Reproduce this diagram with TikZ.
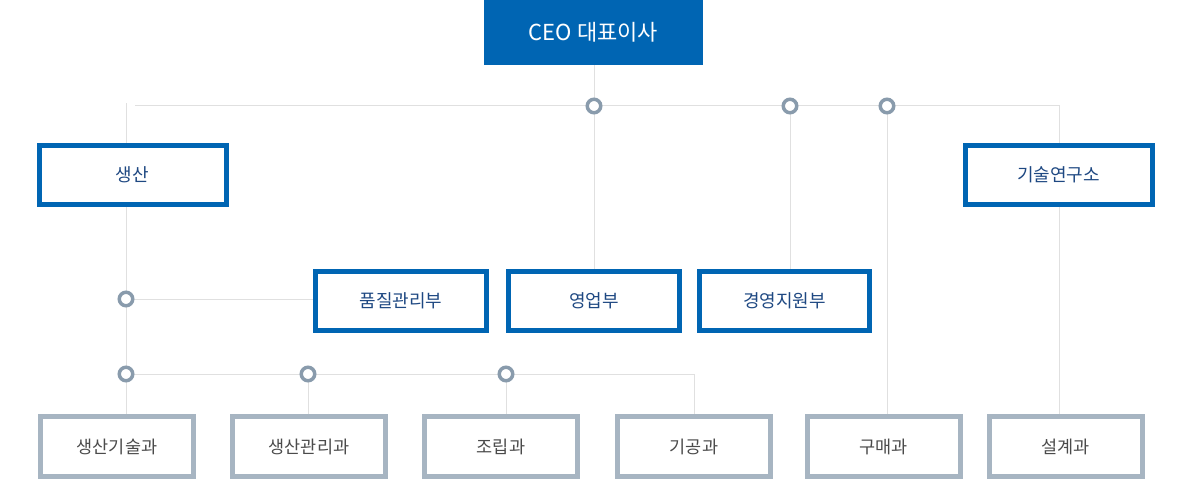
\documentclass[tikz,border=0pt]{standalone}
\usepackage{fontspec}
\setmainfont{Noto Sans CJK KR}
\definecolor{ceoblue}{RGB}{0,101,179}
\definecolor{teamgray}{RGB}{167,181,194}
\definecolor{dotgray}{RGB}{137,155,172}
\definecolor{linegray}{RGB}{224,224,224}
\definecolor{txtblue}{RGB}{30,72,130}
\definecolor{txtgray}{RGB}{75,75,75}

\tikzstyle{ceo} = [rectangle, fill=ceoblue, text=white, minimum width=219pt, minimum height=65pt, inner sep=0pt, font=\fontsize{22}{26}\selectfont]
\tikzstyle{s} = [rectangle, draw=ceoblue, line width=5pt, fill=white, text=txtblue, minimum width=187pt, minimum height=59pt, inner sep=0pt, font=\fontsize{18}{21}\selectfont]
\tikzstyle{t} = [rectangle, draw=teamgray, line width=5pt, fill=white, text=txtgray, minimum width=153pt, minimum height=60pt, inner sep=0pt, font=\fontsize{17.5}{21}\selectfont]
\tikzstyle{ln} = [draw=linegray, line width=1pt]
\tikzstyle{dot} = [circle, draw=dotgray, line width=3.5pt, fill=white, minimum size=13.5pt, inner sep=0pt]

\begin{document}
\begin{tikzpicture}[x=1pt,y=-1pt]
\useasboundingbox (0,0) rectangle (1186,497);

\node[ceo] (ceo) at (593.5,32.5) {CEO 대표이사};

\node[s] (prod) at (132.5,175) {생산};
\node[s] (lab) at (1058.5,175) {기술연구소};
\node[s, minimum width=171pt] (qc) at (401,300.5) {품질관리부};
\node[s, minimum width=171pt] (sales) at (594,300.5) {영업부};
\node[s, minimum width=170pt] (admin) at (784.5,300.5) {경영지원부};

\node[t] (prodtech) at (117,446.5) {생산기술과};
\node[t] (prodmgmt) at (309,446.5) {생산관리과};
\node[t] (assembly) at (501,446.5) {조립과};
\node[t] (machining) at (694,446.5) {기공과};
\node[t] (purchase) at (883.5,446.5) {구매과};
\node[t] (design) at (1065.5,446.5) {설계과};

% junctions
\coordinate (hl) at (135,106);
\coordinate (hr) at (1059,106);
\coordinate (pl) at (126,103);
\coordinate (j0) at (594,106);
\coordinate (j1) at (790,106);
\coordinate (j2) at (887,106);
\coordinate (j3) at (126,299);
\coordinate (j4) at (126,374);
\coordinate (j5) at (308,374);
\coordinate (j6) at (506,374);
\coordinate (j7) at (694,374);

\draw[ln] (hl) -- (hr) -- (hr |- lab.north);
\draw[ln] (pl) -- (pl |- prod.north);
\draw[ln] (ceo.south -| j0) -- (j0 |- sales.north);
\draw[ln] (j1) -- (j1 |- admin.north);
\draw[ln] (j2) -- (j2 |- purchase.north);
\draw[ln] (lab.south -| hr) -- (hr |- design.north);
\draw[ln] (j3 |- prod.south) -- (j3 |- prodtech.north);
\draw[ln] (j3) -- (j3 -| qc.west);
\draw[ln] (j4) -- (j7) -- (j7 |- machining.north);
\draw[ln] (j5) -- (j5 |- prodmgmt.north);
\draw[ln] (j6) -- (j6 |- assembly.north);

\node[dot] (d0) at (j0) {};
\node[dot] (d1) at (j1) {};
\node[dot] (d2) at (j2) {};
\node[dot] (d3) at (j3) {};
\node[dot] (d4) at (j4) {};
\node[dot] (d5) at (j5) {};
\node[dot] (d6) at (j6) {};

\end{tikzpicture}
\end{document}
